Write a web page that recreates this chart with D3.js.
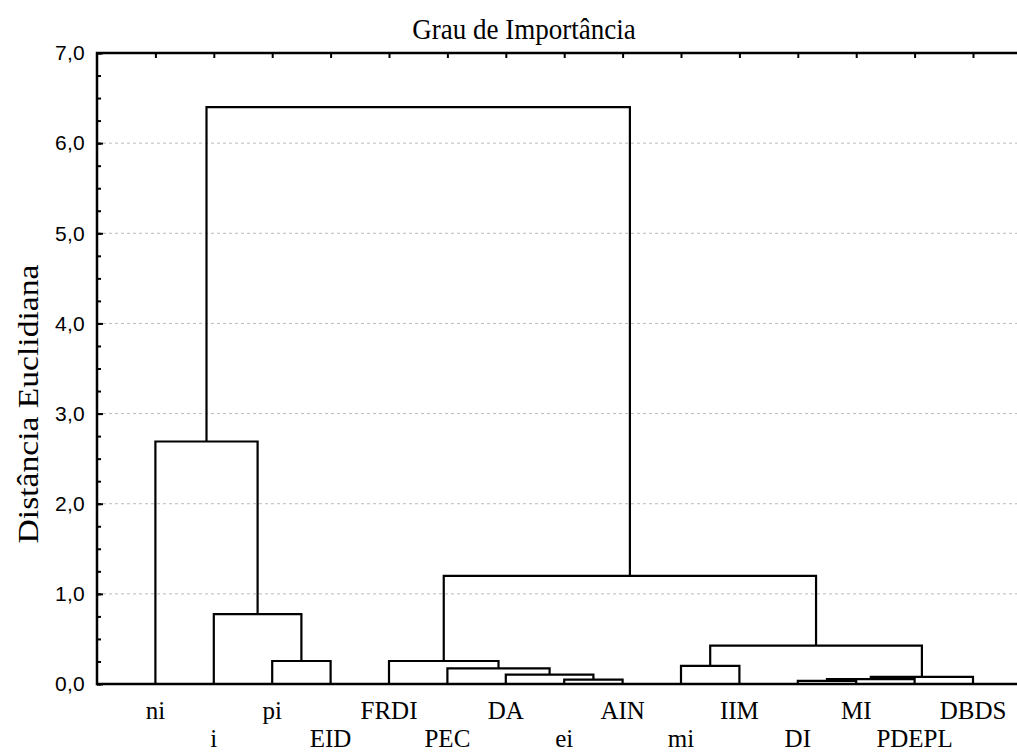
<!DOCTYPE html>
<html>
<head>
<meta charset="utf-8">
<script src="https://cdn.jsdelivr.net/npm/d3@7"></script>
<style>
  body { margin: 0; background: #fff; }
  svg { display: block; overflow: hidden; }
</style>
</head>
<body>
<svg id="chart"></svg>
<script>
(function(){
    // leaves in dendrogram order
    const leaves = ['ni','i','pi','EID','FRDI','PEC','DA','ei','AIN','mi','IIM','DI','MI','PDEPL','DBDS'];
    // merges: ids 0..14 are leaves, merge k creates cluster 15+k
    const mergeLeft   = [2, 1, 0, 7, 6, 5, 4, 9, 11, 23, 24, 22, 21, 17];
    const mergeRight  = [3, 15, 16, 8, 18, 19, 20, 10, 12, 13, 14, 25, 26, 27];
    const mergeHeight = [0.255, 0.775, 2.69, 0.048, 0.103, 0.174, 0.255, 0.20, 0.035, 0.055, 0.08, 0.426, 1.20, 6.40];
    const yTicks = [0,1,2,3,4,5,6,7];

    const W = 1017, H = 753;
    const svg = d3.select('#chart').attr('width', W).attr('height', H);

    const left = 97, top = 53, bottom = 684, step = 58.4;
    const x = d3.scaleLinear().domain([0, leaves.length + 1]).range([left, left + step * (leaves.length + 1)]);
    const y = d3.scaleLinear().domain([0, 7]).range([bottom, top]);
    const fmt = v => d3.format('.1f')(v).replace('.', ',');
    const serif = '"Liberation Serif", "Times New Roman", serif';

    // grid
    svg.append('g').selectAll('line').data(yTicks.filter(d => d > 0 && d < 7)).join('line')
        .attr('x1', left).attr('x2', W).attr('y1', d => y(d)).attr('y2', d => y(d))
        .attr('stroke', '#bbb').attr('stroke-width', 1).attr('stroke-dasharray', '3,3');

    // minor ticks
    svg.append('g').attr('transform', `translate(${left},0)`)
        .call(d3.axisLeft(y).tickValues(d3.range(0, 7.01, 0.25)).tickSize(-4).tickFormat(''))
        .call(g => g.select('.domain').remove())
        .call(g => g.selectAll('line').attr('stroke', '#000').attr('stroke-width', 2));

    // major ticks and labels
    svg.append('g').attr('transform', `translate(${left},0)`)
        .call(d3.axisLeft(y).tickValues(yTicks).tickSize(-6).tickPadding(12).tickFormat(fmt))
        .call(g => g.select('.domain').remove())
        .call(g => g.selectAll('line').attr('stroke', '#000').attr('stroke-width', 2))
        .call(g => g.selectAll('text').attr('font-family', '"Liberation Sans", Arial, sans-serif')
            .attr('font-size', 21).attr('letter-spacing', 0.3).attr('fill', '#000'));

    // top ticks
    svg.append('g').attr('transform', `translate(0,${top})`)
        .call(d3.axisTop(x).tickValues(d3.range(1, leaves.length + 1)).tickSize(-5).tickFormat(''))
        .call(g => g.select('.domain').remove())
        .call(g => g.selectAll('line').attr('stroke', '#000').attr('stroke-width', 2));

    // frame
    svg.append('path')
        .attr('d', `M${W + 5},${top}H${left}V${bottom}H${W + 5}`)
        .attr('fill', 'none').attr('stroke', '#000').attr('stroke-width', 2.5);

    // node positions
    const nodes = leaves.map((d, i) => ({ x: x(i + 1), h: 0 }));
    mergeLeft.forEach((a, k) => {
        const b = mergeRight[k];
        nodes.push({ x: (nodes[a].x + nodes[b].x) / 2, h: mergeHeight[k], a, b });
    });

    svg.append('g').selectAll('path').data(nodes.filter(n => n.a !== undefined)).join('path')
        .attr('d', n => {
            const A = nodes[n.a], B = nodes[n.b];
            return `M${A.x},${y(A.h)}V${y(n.h)}H${B.x}V${y(B.h)}`;
        })
        .attr('fill', 'none').attr('stroke', '#000').attr('stroke-width', 2.2);

    // leaf labels
    svg.append('g').selectAll('text').data(leaves).join('text')
        .attr('x', (d, i) => x(i + 1))
        .attr('y', (d, i) => i % 2 === 0 ? 719 : 747)
        .attr('text-anchor', 'middle')
        .attr('font-family', serif)
        .attr('font-size', 25)
        .text(d => d);

    // title
    svg.append('text')
        .attr('transform', 'translate(524,39) scale(1.04,1.1)')
        .attr('text-anchor', 'middle')
        .attr('font-family', serif)
        .attr('font-size', 26)
        .text('Grau de Importância');

    // y label
    svg.append('text')
        .attr('transform', 'translate(38,404) rotate(-90) scale(1.12,1)')
        .attr('text-anchor', 'middle')
        .attr('font-family', serif)
        .attr('font-size', 30)
        .text('Distância Euclidiana');
})();
</script>
</body>
</html>
